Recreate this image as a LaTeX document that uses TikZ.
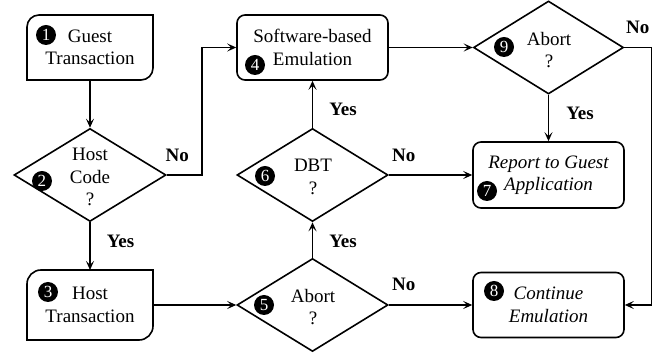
\documentclass[tikz,border=0pt]{standalone}
\usepackage{fontspec}
\setmainfont{Liberation Serif}
\usetikzlibrary{shapes.geometric,arrows.meta}
\newcommand{\flowfont}{\fontsize{19}{22.5}\selectfont}
\tikzstyle{mybox} = [draw=black, line width=1.6pt, rectangle, rounded corners=8pt, minimum width=151pt, minimum height=65pt, align=center, inner sep=0pt, font=\flowfont]
\tikzstyle{myterm} = [rectangle, minimum width=126pt, align=center, inner sep=0pt, outer sep=0pt, font=\flowfont]
\tikzstyle{mydiam} = [draw=black, line width=1.6pt, diamond, minimum width=151pt, minimum height=93pt, inner sep=0pt]
\tikzstyle{mytext} = [align=center, inner sep=0pt, font=\flowfont]
\tikzstyle{mynum} = [circle, fill=black, text=white, inner sep=0pt, minimum size=20pt, font=\fontsize{17}{17}\selectfont]
\tikzstyle{mylbl} = [inner sep=0pt, font=\flowfont\bfseries]
\tikzstyle{myarrow} = [line width=1.6pt, -{Stealth[length=9pt, width=8pt, inset=4pt]}]
\tikzstyle{myline} = [line width=1.6pt]

\begin{document}
\begin{tikzpicture}[x=1pt, y=1pt]
	\useasboundingbox (0,0) rectangle (667,358);

	% left column
	\node [myterm, minimum height=65pt] (b1) at (90,310.5) {Guest\\Transaction};
	\draw [myline] (b1.north east) -- ([xshift=12pt]b1.north west) arc[start angle=90, end angle=180, radius=12pt] -- (b1.south west) -- ([xshift=-12pt]b1.south east) arc[start angle=270, end angle=360, radius=12pt] -- cycle;
	\node [mydiam, minimum width=152pt] (d2) at (90,183) {};
	\node [mytext] (t2) at (90,181) {Host\\Code\\?};
	\node [myterm, minimum height=70pt] (b3) at (90,53) {Host\\Transaction};
	\draw [myline] (b3.north east) -- ([xshift=14pt]b3.north west) arc[start angle=90, end angle=180, radius=14pt] -- (b3.south west) -- ([xshift=-14pt]b3.south east) arc[start angle=270, end angle=360, radius=14pt] -- cycle;

	% middle column
	\node [mybox] (b4) at (312.5,310.5) {Software-based\\Emulation};
	\node [mydiam] (d6) at (312.5,183) {};
	\node [mytext] (t6) at (313,181) {DBT\\?};
	\node [mydiam] (d5) at (312.5,53) {};
	\node [mytext] (t5) at (313,51) {Abort\\?};

	% right column
	\node [mydiam, minimum width=150pt] (d9) at (548.5,310.5) {};
	\node [mytext] (t9) at (549,308) {Abort\\?};
	\node [mybox, minimum height=66pt, font=\flowfont\itshape] (b7) at (548.5,183) {Report to Guest\\Application};
	\node [mybox, font=\flowfont\itshape] (b8) at (548.5,53) {Continue\\Emulation};

	% numbers
	\node [mynum] (n1) at (46,323) {1};
	\node [mynum] (n2) at (42,177) {2};
	\node [mynum] (n3) at (48,66) {3};
	\node [mynum] (n4) at (255,293) {4};
	\node [mynum] (n5) at (264,53) {5};
	\node [mynum] (n6) at (265,182) {6};
	\node [mynum] (n7) at (487,167) {7};
	\node [mynum] (n8) at (494,67) {8};
	\node [mynum] (n9) at (504,311) {9};

	% arrows
	\draw [myarrow] (b1.south) -- (d2.north);
	\draw [myarrow] (d2.east) -- node[mylbl, above=13pt, pos=.3] {No} ++(35,0) |- (b4.west);
	\draw [myarrow] (d2.south) -- node[mylbl, right=16pt, pos=.4] {Yes} (b3.north);
	\draw [myarrow] (b3.east) -- (d5.west);
	\draw [myarrow] (d5.north) -- node[mylbl, right=16pt, pos=.46] {Yes} (d6.south);
	\draw [myarrow] (d6.north) -- node[mylbl, right=16pt, pos=.39] {Yes} (b4.south);
	\draw [myarrow] (d6.east) -- node[mylbl, above=13pt, pos=.18] {No} (b7.west);
	\draw [myarrow] (d5.east) -- node[mylbl, above=14pt, pos=.18] {No} (b8.west);
	\draw [myarrow] (b4.east) -- (d9.west);
	\draw [myarrow] (d9.south) -- node[mylbl, right=17pt, pos=.41] {Yes} (b7.north);
	\draw [myarrow] (d9.east) -- node[mylbl, above=13pt] {No} ++(27,0) |- (b8.east);
\end{tikzpicture}
\end{document}
